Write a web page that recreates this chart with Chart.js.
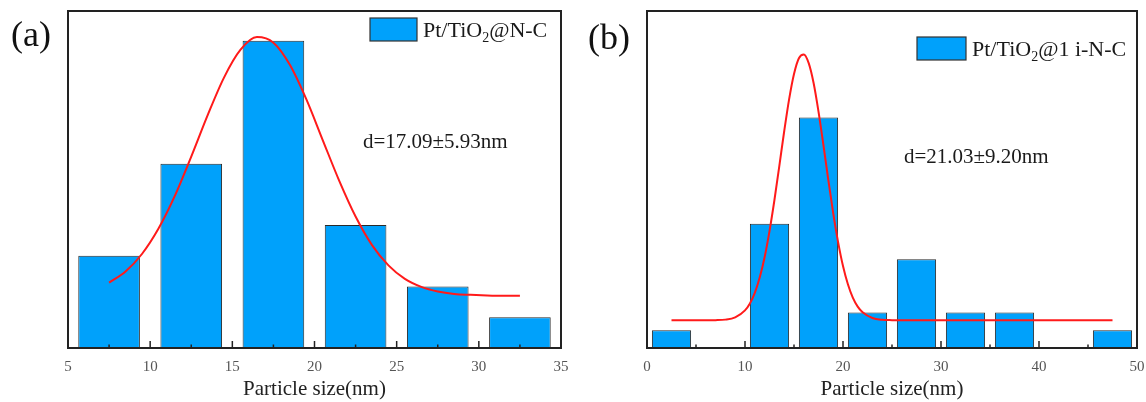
<!DOCTYPE html>
<html>
<head>
<meta charset="utf-8">
<script src="https://cdn.jsdelivr.net/npm/chart.js@4.4.1/dist/chart.umd.min.js"></script>
<style>
  html, body { margin: 0; padding: 0; background: #fff; }
  #wrap { position: relative; width: 1146px; height: 402px; }
  .panel { position: absolute; top: 0; width: 573px; height: 402px; }
</style>
</head>
<body>
<div id="wrap">
  <div class="panel" style="left:0"><canvas id="chartA" width="573" height="402"></canvas></div>
  <div class="panel" style="left:573px"><canvas id="chartB" width="573" height="402"></canvas></div>
</div>
<script>
// panel (a): Pt/TiO2@N-C
const binsA = [7.5, 12.5, 17.5, 22.5, 27.5, 32.5];
const countsA = [3, 6, 10, 4, 2, 1];
const fitXA = [7.5, 8.5, 9.5, 10.5, 11.5, 12.5, 13.5, 14.5, 15.5, 16.5, 17.5, 18.5, 19.5,
  20.5, 21.5, 22.5, 23.5, 24.5, 25.5, 26.5, 27.5, 28.5, 29.5, 30.5, 31.5, 32.5];
const fitYA = [2.13, 2.49, 3.06, 3.88, 4.95, 6.23, 7.58, 8.81, 9.71, 10.12, 9.94, 9.22, 8.10,
  6.77, 5.45, 4.28, 3.35, 2.69, 2.25, 1.99, 1.84, 1.76, 1.73, 1.71, 1.70, 1.70];
const legendA = ['Pt/TiO', '2', '@N-C'];
const noteA = 'd=17.09±5.93nm';

// panel (b): Pt/TiO2@1 i-N-C
const binsB = [2.5, 7.5, 12.5, 17.5, 22.5, 27.5, 32.5, 37.5, 42.5, 47.5];
const countsB = [1, 0, 7, 13, 2, 5, 2, 2, 0, 1];
const fitXB = [2.5, 5, 7, 8, 9, 10, 10.5, 11, 11.5, 12, 12.5, 13, 13.5, 14, 14.5, 15, 15.5,
  16, 16.5, 17, 17.5, 18, 18.5, 19, 19.5, 20, 20.5, 21, 21.5, 22, 23, 24, 25, 27, 30, 35, 40, 47.5];
const fitYB = [1.56, 1.56, 1.57, 1.60, 1.73, 2.12, 2.51, 3.11, 3.97, 5.12, 6.59, 8.33, 10.26,
  12.22, 14.02, 15.45, 16.34, 16.55, 16.06, 14.94, 13.33, 11.45, 9.48, 7.61, 5.97, 4.62, 3.59,
  2.84, 2.33, 2.01, 1.69, 1.59, 1.57, 1.56, 1.56, 1.56, 1.56, 1.56];
const legendB = ['Pt/TiO', '2', '@1 i-N-C'];
const noteB = 'd=21.03±9.20nm';

const SERIF = '"Liberation Serif", "DejaVu Serif", serif';
const BAR_BLUE = '#00A1FB';

// frame, inward ticks, legend, fit text and panel letter
const decorPlugin = {
  id: 'decor',
  afterDatasetsDraw(chart, args, o) {
    const ctx = chart.ctx;
    const a = chart.chartArea;
    const x = chart.scales.x;
    ctx.save();
    ctx.strokeStyle = '#222';
    ctx.lineWidth = 1.5;
    const step = o.step;
    for (let v = x.min; v <= x.max + 0.001; v += step / 2) {
      const px = x.getPixelForValue(v);
      const major = Math.abs((v - x.min) % step) < 0.001;
      ctx.beginPath();
      ctx.moveTo(px, a.bottom);
      ctx.lineTo(px, a.bottom - (major ? 7 : 3.5));
      ctx.stroke();
    }
    ctx.lineWidth = 2;
    ctx.strokeRect(a.left, a.top, a.right - a.left, a.bottom - a.top);

    // legend
    const [lx, ly, lw, lh] = o.legendBox;
    ctx.fillStyle = BAR_BLUE;
    ctx.fillRect(lx, ly, lw, lh);
    ctx.lineWidth = 1.2;
    ctx.strokeStyle = '#333';
    ctx.strokeRect(lx, ly, lw, lh);
    ctx.fillStyle = '#1a1a1a';
    ctx.textAlign = 'left';
    ctx.textBaseline = 'alphabetic';
    const fs = o.legendSize;
    let tx = lx + lw + 6;
    const base = ly + lh / 2 + fs * 0.34;
    o.legend.forEach((part, i) => {
      const sub = i === 1;
      ctx.font = `${sub ? Math.round(fs * 0.65) : fs}px ${SERIF}`;
      ctx.fillText(part, tx, sub ? base + fs * 0.22 : base);
      tx += ctx.measureText(part).width;
    });

    // fitted size text
    ctx.font = `${o.noteSize}px ${SERIF}`;
    ctx.textBaseline = 'middle';
    ctx.fillText(o.note, o.noteAt[0], o.noteAt[1]);

    // panel letter
    ctx.font = `36px ${SERIF}`;
    ctx.fillStyle = '#111';
    ctx.fillText(o.letter, o.letterAt[0], o.letterAt[1]);
    ctx.restore();
  }
};

function makeChart(id, bins, counts, fitX, fitY, xMin, xMax, step, yMax, barPct, pad, decor) {
  const ctx = document.getElementById(id).getContext('2d');
  return new Chart(ctx, {
    type: 'bar',
    data: {
      datasets: [{
        type: 'bar',
        label: decor.legend.join(''),
        data: bins.map((b, i) => ({x: b, y: counts[i]})),
        backgroundColor: BAR_BLUE,
        borderColor: '#2a2a2a',
        borderWidth: 1,
        barPercentage: barPct,
        categoryPercentage: 1,
        order: 2
      }, {
        type: 'line',
        label: 'fit',
        data: fitX.map((v, i) => ({x: v, y: fitY[i]})),
        borderColor: '#FF1A1A',
        borderWidth: 2,
        pointRadius: 0,
        cubicInterpolationMode: 'monotone',
        fill: false,
        order: 1
      }]
    },
    options: {
      responsive: false,
      animation: false,
      layout: {padding: pad},
      scales: {
        x: {
          type: 'linear',
          min: xMin,
          max: xMax,
          offset: false,
          grid: {display: false, drawTicks: false},
          border: {display: false},
          ticks: {
            stepSize: step,
            padding: 10,
            color: '#555',
            font: {family: SERIF, size: 15}
          },
          title: {
            display: true,
            text: 'Particle size(nm)',
            color: '#222',
            padding: {top: -3, bottom: 0},
            font: {family: SERIF, size: 21}
          },
          afterFit: (scale) => {
            scale.height = 54;
            scale.paddingLeft = 0;
            scale.paddingRight = 0;
          }
        },
        y: {
          display: false,
          min: 0,
          max: yMax
        }
      },
      plugins: {
        legend: {display: false},
        tooltip: {enabled: false},
        decor: Object.assign({step: step}, decor)
      }
    },
    plugins: [decorPlugin]
  });
}

makeChart('chartA', binsA, countsA, fitXA, fitYA, 5, 35, 5, 10.97, 0.75,
  {left: 68, right: 12, top: 11, bottom: 0},
  {legend: legendA, legendBox: [370, 18, 47, 23], legendSize: 22,
   note: noteA, noteAt: [363, 142], noteSize: 21,
   letter: '(a)', letterAt: [11, 37]});

makeChart('chartB', binsB, countsB, fitXB, fitYB, 0, 50, 10, 19, 0.8,
  {left: 74, right: 9, top: 11, bottom: 0},
  {legend: legendB, legendBox: [344, 37, 49, 23], legendSize: 22,
   note: noteB, noteAt: [331, 157], noteSize: 21,
   letter: '(b)', letterAt: [15, 40]});
</script>
</body>
</html>
